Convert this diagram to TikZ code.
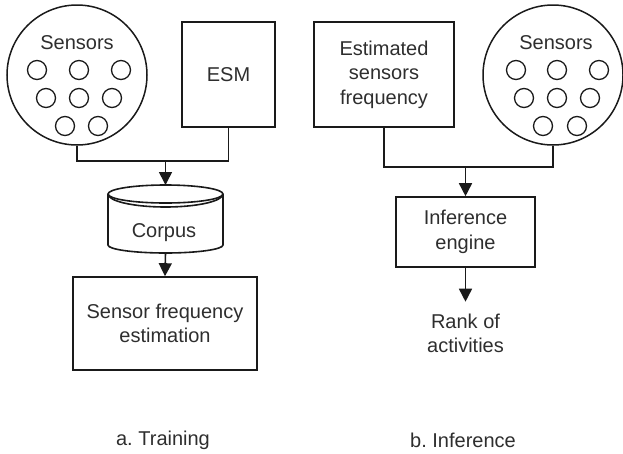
\documentclass[tikz,border=0pt]{standalone}
\usepackage{fontspec}
\setmainfont{Liberation Sans}
\usetikzlibrary{arrows.meta}
\frenchspacing
\definecolor{ink}{HTML}{1A1A1A}
\definecolor{txt}{HTML}{2E2E2E}
\tikzset{
  lbl/.style={font=\fontsize{20}{24.5}\selectfont, text=txt, align=center, inner sep=0pt},
  boxnode/.style={draw=ink, line width=1.6pt, rectangle, lbl},
  bigcirc/.style={draw=ink, line width=1.5pt, circle, minimum size=140pt, inner sep=0pt},
  dot/.style={draw=ink, line width=1.3pt, circle, minimum size=19pt, inner sep=0pt},
  wire/.style={draw=ink, line width=1.6pt},
  arr/.style={wire, -{Triangle[length=13pt,width=13pt]}}
}
\begin{document}
\begin{tikzpicture}[x=1pt,y=-1pt]
\useasboundingbox (0,0) rectangle (623,453);
% ---------- Training ----------
\node[bigcirc] (sensA) at (77,75) {};
\node[lbl] (sensAt) at (77,43) {Sensors};
\node[dot] (a1) at (37,70) {};
\node[dot] (a2) at (79,70) {};
\node[dot] (a3) at (121,70) {};
\node[dot] (a4) at (46,98) {};
\node[dot] (a5) at (79,98) {};
\node[dot] (a6) at (112,98) {};
\node[dot] (a7) at (65,126) {};
\node[dot] (a8) at (98,126) {};
\node[boxnode, minimum width=93pt, minimum height=105pt] (esm) at (228.5,74.5) {ESM};
\coordinate (jA) at (165.5,161);
\draw[wire] (sensA.south) |- (jA) -| (esm.south);
% corpus cylinder
\coordinate (ctop) at (165.5,185);
\coordinate (cbot) at (165.5,253);
\draw[wire] (165.5,194) ellipse [x radius=57.5, y radius=9];
\draw[wire] (108,194) arc[start angle=180, end angle=0, x radius=57.5, y radius=13];
\draw[wire] (108,194) -- (108,245) arc[start angle=180, end angle=0, x radius=57.5, y radius=8] -- (223,194);
\node[lbl] (corpus) at (164,233) {Corpus};
\draw[arr] (jA) -- (ctop);
\node[boxnode, minimum width=184pt, minimum height=93pt] (sfe) at (165,323.5) {Sensor frequency\\estimation};
\draw[arr] (cbot) -- (sfe.north);
\node[lbl] (ta) at (163,440) {a. Training};
% ---------- Inference ----------
\node[boxnode, minimum width=140pt, minimum height=105pt] (est) at (384,74.5) {Estimated\\sensors\\frequency};
\node[bigcirc] (sensB) at (553,75) {};
\node[lbl] (sensBt) at (556,43) {Sensors};
\node[dot] (b1) at (516,70) {};
\node[dot] (b2) at (557,70) {};
\node[dot] (b3) at (599,70) {};
\node[dot] (b4) at (524,98) {};
\node[dot] (b5) at (557,98) {};
\node[dot] (b6) at (590,98) {};
\node[dot] (b7) at (543,126) {};
\node[dot] (b8) at (577,126) {};
\coordinate (jB) at (465.5,167);
\draw[wire] (est.south) |- (jB) -| (sensB.south);
\node[boxnode, minimum width=139pt, minimum height=70pt] (inf) at (465.5,232) {Inference\\engine};
\draw[arr] (jB) -- (inf.north);
\node[lbl] (rank) at (465.5,333.5) {Rank of\\activities};
\draw[arr, shorten >=12pt] (inf.south) -- (rank.north);
\node[lbl] (tb) at (463,440) {b. Inference};
\end{tikzpicture}
\end{document}
